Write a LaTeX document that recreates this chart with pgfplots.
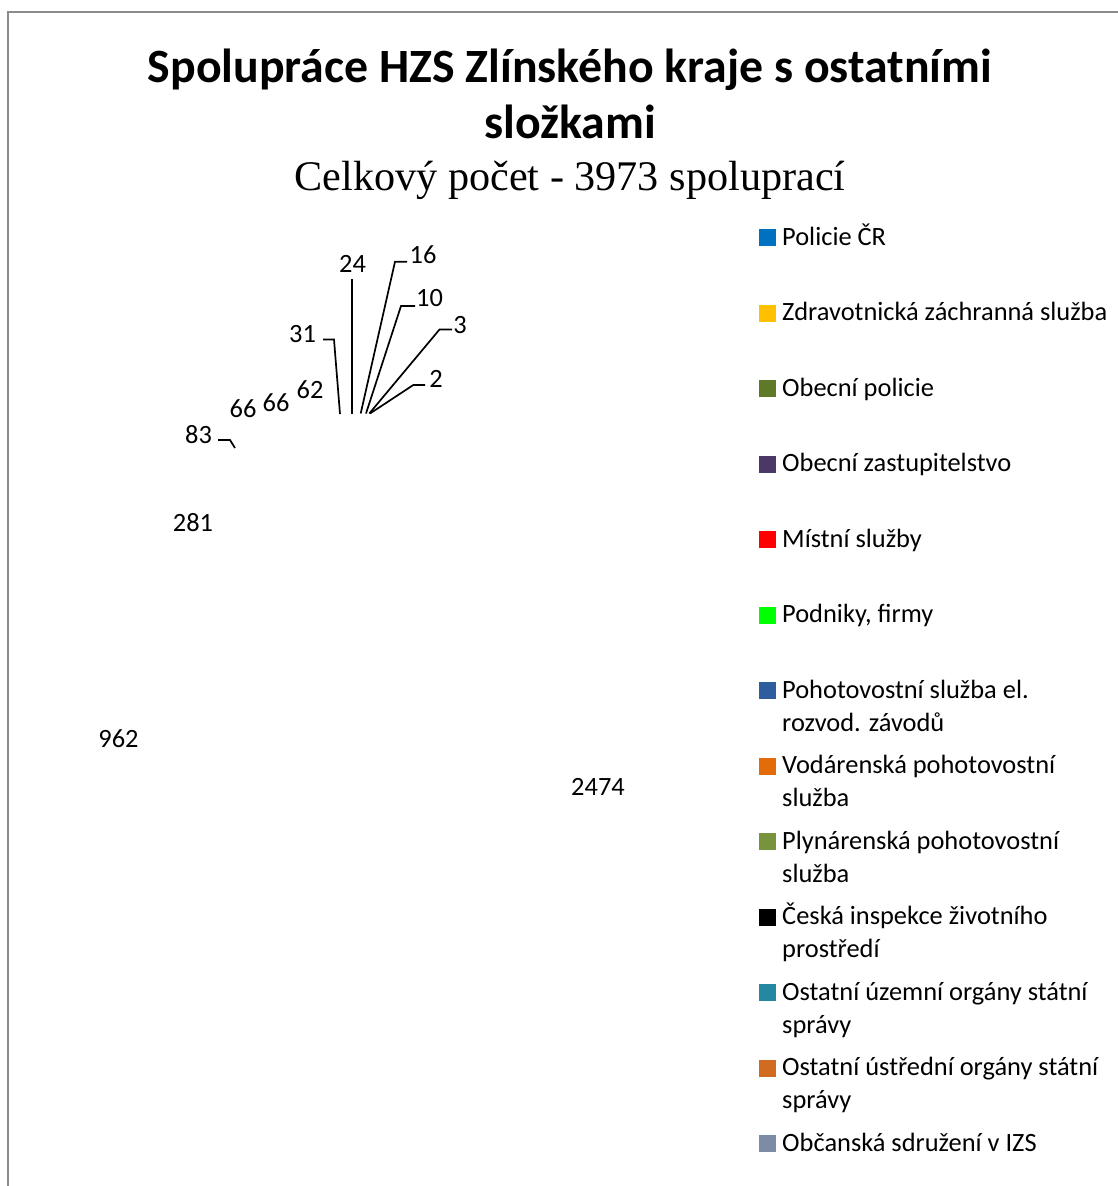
\documentclass[border=0pt]{standalone}
\usepackage{fontspec}
\setmainfont{Carlito}
\newfontfamily\timesfont{Liberation Serif}
\usepackage{pgfplots}
\pgfplotsset{compat=1.18}
\definecolor{cA}{HTML}{0070C0}
\definecolor{cB}{HTML}{FFC000}
\definecolor{cC}{HTML}{5E7A29}
\definecolor{cD}{HTML}{4B3768}
\definecolor{cE}{HTML}{FF0000}
\definecolor{cF}{HTML}{00FF00}
\definecolor{cG}{HTML}{2E5E9E}
\definecolor{cH}{HTML}{E36C09}
\definecolor{cI}{HTML}{77933C}
\definecolor{cJ}{HTML}{000000}
\definecolor{cK}{HTML}{2688A0}
\definecolor{cL}{HTML}{D06B20}
\definecolor{cM}{HTML}{7C8BA6}
\definecolor{frame}{HTML}{8C8C8C}
\begin{document}
\begin{tikzpicture}
\begin{axis}[
  width=1118pt, height=1186pt, scale only axis,
  xmin=0, xmax=1118, ymin=0, ymax=1186, y dir=reverse,
  hide axis, clip=false,
]
% chart-area frame
\draw[frame, line width=2.2pt] (axis cs:8,1186) -- (axis cs:8,12) -- (axis cs:1118,12);
% title
\node[anchor=base, align=center, font=\fontsize{47.8}{56}\selectfont\bfseries, inner sep=0pt]
  at (axis cs:570,138) {Spolupráce HZS Zlínského kraje s ostatními\\složkami};
\node[anchor=base, font=\timesfont\fontsize{42.2}{48}\selectfont, inner sep=0pt]
  at (axis cs:570,190) {Celkový počet - 3973 spoluprací};

% leader lines
\addplot[black, line width=1.7pt] coordinates {(218,440) (230,440) (235,448)};
\addplot[black, line width=1.7pt] coordinates {(323,339.5) (334,339.5) (340,414)};
\addplot[black, line width=1.7pt] coordinates {(351.7,279) (351.7,414)};
\addplot[black, line width=1.7pt] coordinates {(407,261.7) (395,261.7) (360.7,413.5)};
\addplot[black, line width=1.7pt] coordinates {(415,306) (401,306) (366,413.5)};
\addplot[black, line width=1.7pt] coordinates {(452,329.5) (439.5,329.5) (369.3,413.5)};
\addplot[black, line width=1.7pt] coordinates {(425,385) (413.3,385) (370,413.5)};

% data labels
\addplot[draw=none, nodes near coords, point meta=explicit symbolic,
  nodes near coords style={anchor=center, inner sep=0pt, text=black,
    font=\fontsize{26.4}{30}\selectfont}]
  coordinates {
  (598,787)[2474]
  (118.5,739)[962]
  (193,522.5)[281]
  (198.5,435)[83]
  (243,408.5)[66]
  (276,402.5)[66]
  (310,390)[62]
  (302.5,334.5)[31]
  (352.5,264)[24]
  (423,255)[16]
  (429.5,298)[10]
  (460,325)[3]
  (436,379)[2]
  };

% legend markers
\addplot[only marks, mark=square*, mark size=8pt, color=cA] coordinates {(767,237.5)};
\addplot[only marks, mark=square*, mark size=8pt, color=cB] coordinates {(767,313.0)};
\addplot[only marks, mark=square*, mark size=8pt, color=cC] coordinates {(767,388.5)};
\addplot[only marks, mark=square*, mark size=8pt, color=cD] coordinates {(767,464.0)};
\addplot[only marks, mark=square*, mark size=8pt, color=cE] coordinates {(767,539.5)};
\addplot[only marks, mark=square*, mark size=8pt, color=cF] coordinates {(767,615.0)};
\addplot[only marks, mark=square*, mark size=8pt, color=cG] coordinates {(767,690.5)};
\addplot[only marks, mark=square*, mark size=8pt, color=cH] coordinates {(767,766.0)};
\addplot[only marks, mark=square*, mark size=8pt, color=cI] coordinates {(767,841.5)};
\addplot[only marks, mark=square*, mark size=8pt, color=cJ] coordinates {(767,917.0)};
\addplot[only marks, mark=square*, mark size=8pt, color=cK] coordinates {(767,992.5)};
\addplot[only marks, mark=square*, mark size=8pt, color=cL] coordinates {(767,1068.0)};
\addplot[only marks, mark=square*, mark size=8pt, color=cM] coordinates {(767,1143.5)};

% legend texts
\addplot[draw=none, nodes near coords, point meta=explicit symbolic,
  nodes near coords style={anchor=base west, inner sep=0pt, text=black,
    font=\fontsize{26.4}{30}\selectfont}]
  coordinates {
  (782,245.0)[Policie ČR]
  (782,320.5)[Zdravotnická záchranná služba]
  (782,396.0)[Obecní policie]
  (782,471.5)[Obecní zastupitelstvo]
  (782,547.0)[Místní služby]
  (782,622.5)[{Podniky, firmy}]
  (782,698.0)[Pohotovostní služba el.]
  (782,731.0)[rozvod. závodů]
  (782,773.5)[Vodárenská pohotovostní]
  (782,806.5)[služba]
  (782,849.0)[Plynárenská pohotovostní]
  (782,882.0)[služba]
  (782,924.5)[Česká inspekce životního]
  (782,957.5)[prostředí]
  (782,1000.0)[Ostatní územní orgány státní]
  (782,1033.0)[správy]
  (782,1075.5)[Ostatní ústřední orgány státní]
  (782,1108.5)[správy]
  (782,1151.0)[Občanská sdružení v IZS]
  };
\end{axis}
\pgfresetboundingbox
\path (current axis.south west) rectangle (current axis.north east);
\end{tikzpicture}
\end{document}
